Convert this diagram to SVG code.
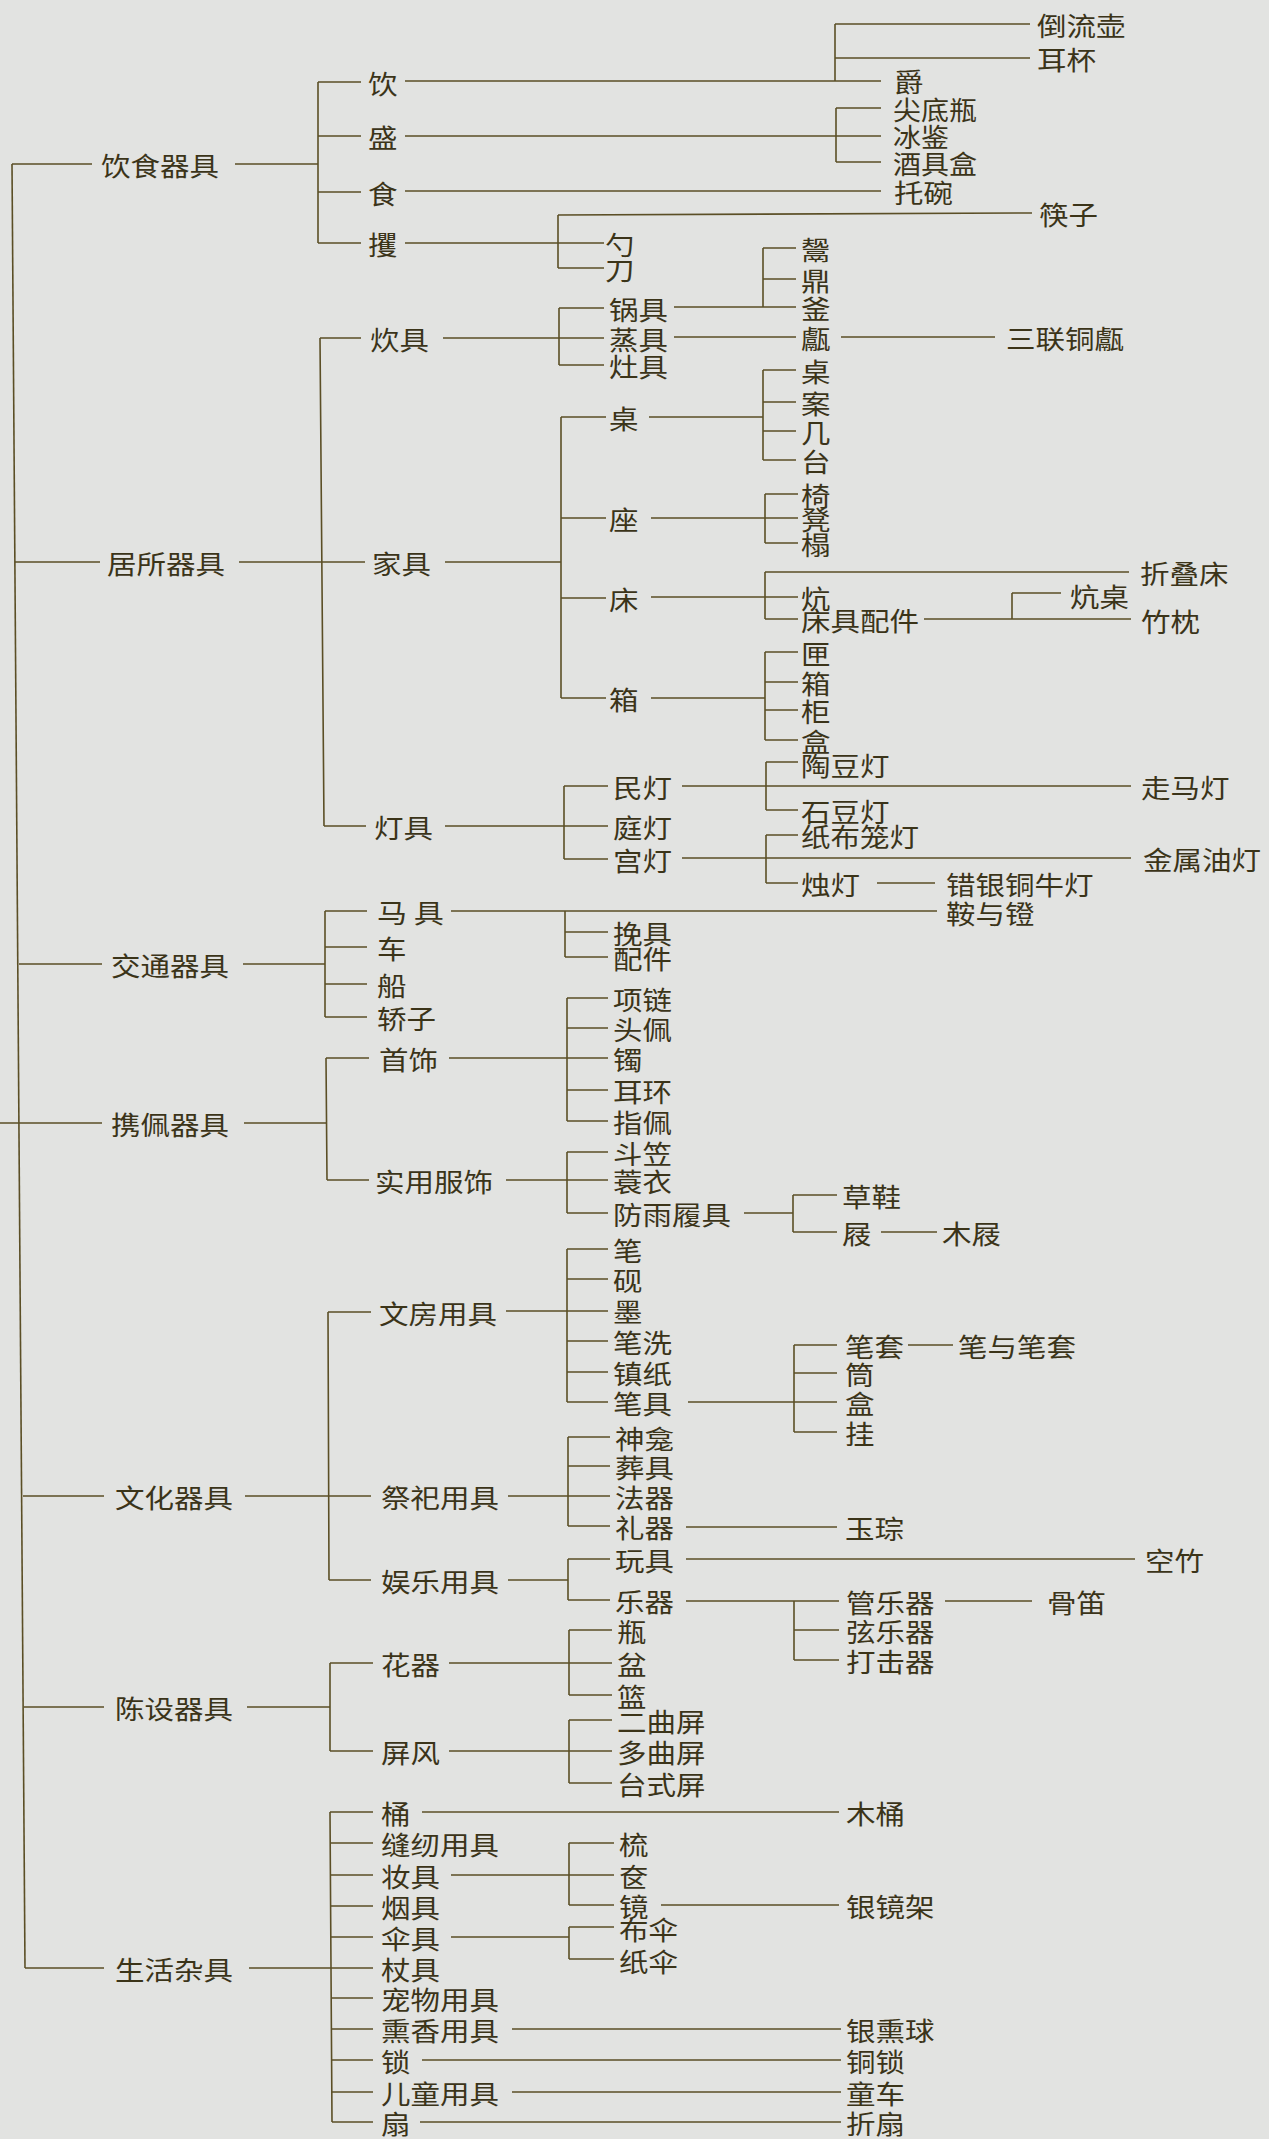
<svg xmlns="http://www.w3.org/2000/svg" width="1269" height="2139" viewBox="0 0 1269 2139">
<style>
.bg{fill:#e2e3e1}
.c path{fill:none;stroke:#5b4f26;stroke-width:1.6}
text{font-family:"Noto Sans CJK SC","Noto Sans CJK TC",sans-serif;font-size:26px;fill:#3b3419;dominant-baseline:central}
</style>
<rect class="bg" x="0" y="0" width="1269" height="2139"/>
<g id="connectors" class="c">
<path d="M12,164 L25,1968"/>
<path d="M12,164 H92 M15,562 H100 M19,964 H102 M0,1123 H102 M23,1496 H104 M24,1707 H104 M25,1968 H104"/>
<path d="M235,164 H318 M239,562 H365 M243,964 H325 M244,1123 H327 M245,1496 H371 M247,1707 H330 M249,1968 H373"/>
<path d="M318,82 V243 M318,82 H361 M318,136 H361 M318,192 H361 M318,243 H361"/>
<path d="M320,338 L324,826 M320,338 H361 M324,826 H366"/>
<path d="M325,911 V1017 M325,911 H367 M325,947 H367 M325,984 H367 M325,1017 H367"/>
<path d="M326,1058 L327,1180 M326,1058 H369 M327,1180 H369"/>
<path d="M328,1312 L329,1580 M328,1312 H371 M329,1580 H371"/>
<path d="M330,1663 V1751 M330,1663 H373 M330,1751 H373"/>
<path d="M330,1812 L332,2122 M330,1812 H373 M330,1843 H373 M331,1875 H373 M331,1906 H373 M331,1937 H373 M332,1998 H373 M332,2029 H373 M332,2060 H373 M332,2092 H373 M332,2122 H373"/>
<path d="M405,81 H881 M835,24 V81 M835,24 H1030 M835,58 H1030"/>
<path d="M405,136 H881 M836,108 V162 M836,108 H881 M836,162 H881"/>
<path d="M405,191 H881"/>
<path d="M405,243 H604 M558,215 V268 M558,215 L1032,213 M558,268 H604"/>
<path d="M443,338 H604 M559,308 V365 M559,308 H604 M559,365 H604"/>
<path d="M674,307 H796 M763,248 V307 M763,248 H796 M763,279 H796"/>
<path d="M674,337 H796 M841,337 H995"/>
<path d="M445,562 H561 M561,417 V698 M561,417 H606 M561,518 H606 M561,598 H606 M561,698 H606"/>
<path d="M649,417 H763 M763,370 V460 M763,370 H796 M763,402 H796 M763,431 H796 M763,460 H796"/>
<path d="M651,518 H798 M765,494 V543 M765,494 H798 M765,543 H798"/>
<path d="M651,597 H798 M765,572 V619 M765,572 H1129 M765,619 H798"/>
<path d="M924,619 H1131 M1012,593 V619 M1012,593 H1061"/>
<path d="M651,698 H765 M765,652 V740 M765,652 H798 M765,682 H798 M765,710 H798 M765,740 H798"/>
<path d="M445,826 H608 M564,786 V859 M564,786 H608 M564,859 H608"/>
<path d="M682,786 H1131 M766,762 V810 M766,762 H798 M766,810 H798"/>
<path d="M682,858 H1131 M766,835 V883 M766,835 H798 M766,883 H798 M877,883 H935"/>
<path d="M451,911 H937 M565,911 V957 M565,932 H608 M565,957 H608"/>
<path d="M449,1058 H608 M567,998 V1121 M567,998 H608 M567,1028 H608 M567,1090 H608 M567,1121 H608"/>
<path d="M506,1180 H608 M567,1152 V1213 M567,1152 H608 M567,1213 H608"/>
<path d="M744,1213 H793 M793,1195 V1232 M793,1195 H837 M793,1232 H837 M881,1232 H937"/>
<path d="M506,1311 H608 M567,1249 V1402 M567,1249 H608 M567,1279 H608 M567,1341 H608 M567,1372 H608 M567,1402 H608"/>
<path d="M688,1402 H837 M794,1345 V1432 M794,1345 H837 M794,1373 H837 M794,1432 H837 M908,1345 H953"/>
<path d="M508,1496 H610 M568,1437 V1526 M568,1437 H610 M568,1466 H610 M568,1526 H610"/>
<path d="M686,1527 H837"/>
<path d="M508,1580 H568 M568,1559 V1600 M568,1559 H610 M568,1600 H610"/>
<path d="M686,1559 H1135"/>
<path d="M686,1601 H839 M794,1601 V1660 M794,1630 H839 M794,1660 H839 M945,1601 H1032"/>
<path d="M449,1663 H612 M569,1630 V1695 M569,1630 H612 M569,1695 H612"/>
<path d="M449,1751 H612 M569,1720 V1783 M569,1720 H612 M569,1783 H612"/>
<path d="M422,1812 H839"/>
<path d="M451,1875 H614 M569,1843 V1905 M569,1843 H614 M569,1905 H614 M661,1905 H839"/>
<path d="M451,1937 H569 M569,1927 V1959 M569,1927 H614 M569,1959 H614"/>
<path d="M512,2029 H841 M422,2060 H841 M512,2092 H841 M420,2122 H841"/>
</g>
<g id="n-yinshiqiju"><text x="101" y="164" textLength="118" lengthAdjust="spacingAndGlyphs">饮食器具</text></g>
<g id="n-jusuoqiju"><text x="107" y="562" textLength="118" lengthAdjust="spacingAndGlyphs">居所器具</text></g>
<g id="n-jiaotongqiju"><text x="111" y="964" textLength="118" lengthAdjust="spacingAndGlyphs">交通器具</text></g>
<g id="n-xiepeiqiju"><text x="111" y="1123" textLength="118" lengthAdjust="spacingAndGlyphs">携佩器具</text></g>
<g id="n-wenhuaqiju"><text x="115" y="1496" textLength="118" lengthAdjust="spacingAndGlyphs">文化器具</text></g>
<g id="n-chensheqiju"><text x="115" y="1707" textLength="118" lengthAdjust="spacingAndGlyphs">陈设器具</text></g>
<g id="n-shenghuozaju"><text x="115" y="1968" textLength="118" lengthAdjust="spacingAndGlyphs">生活杂具</text></g>
<g id="n-yin"><text x="368" y="82" textLength="29.5" lengthAdjust="spacingAndGlyphs">饮</text></g>
<g id="n-sheng"><text x="368" y="136" textLength="29.5" lengthAdjust="spacingAndGlyphs">盛</text></g>
<g id="n-shi"><text x="368" y="192" textLength="29.5" lengthAdjust="spacingAndGlyphs">食</text></g>
<g id="n-jue2"><text x="368" y="243" textLength="29.5" lengthAdjust="spacingAndGlyphs">攫</text></g>
<g id="n-chuiju"><text x="370" y="338" textLength="59" lengthAdjust="spacingAndGlyphs">炊具</text></g>
<g id="n-jiaju"><text x="372" y="562" textLength="59" lengthAdjust="spacingAndGlyphs">家具</text></g>
<g id="n-dengju"><text x="374" y="826" textLength="59" lengthAdjust="spacingAndGlyphs">灯具</text></g>
<g id="n-maju"><text x="377" y="911" textLength="67" lengthAdjust="spacingAndGlyphs">马 具</text></g>
<g id="n-che"><text x="377" y="947" textLength="29.5" lengthAdjust="spacingAndGlyphs">车</text></g>
<g id="n-chuan"><text x="377" y="984" textLength="29.5" lengthAdjust="spacingAndGlyphs">船</text></g>
<g id="n-jiaozi"><text x="377" y="1017" textLength="59" lengthAdjust="spacingAndGlyphs">轿子</text></g>
<g id="n-shoushi"><text x="379" y="1058" textLength="59" lengthAdjust="spacingAndGlyphs">首饰</text></g>
<g id="n-shiyongfushi"><text x="375" y="1180" textLength="118" lengthAdjust="spacingAndGlyphs">实用服饰</text></g>
<g id="n-wenfangyongju"><text x="379" y="1312" textLength="118" lengthAdjust="spacingAndGlyphs">文房用具</text></g>
<g id="n-jisiyongju"><text x="381" y="1496" textLength="118" lengthAdjust="spacingAndGlyphs">祭祀用具</text></g>
<g id="n-yuleyongju"><text x="381" y="1580" textLength="118" lengthAdjust="spacingAndGlyphs">娱乐用具</text></g>
<g id="n-huaqi"><text x="381" y="1663" textLength="59" lengthAdjust="spacingAndGlyphs">花器</text></g>
<g id="n-pingfeng"><text x="381" y="1751" textLength="59" lengthAdjust="spacingAndGlyphs">屏风</text></g>
<g id="n-tong"><text x="381" y="1812" textLength="29.5" lengthAdjust="spacingAndGlyphs">桶</text></g>
<g id="n-fengren"><text x="381" y="1843" textLength="118" lengthAdjust="spacingAndGlyphs">缝纫用具</text></g>
<g id="n-zhuangju"><text x="381" y="1875" textLength="59" lengthAdjust="spacingAndGlyphs">妆具</text></g>
<g id="n-yanju"><text x="381" y="1906" textLength="59" lengthAdjust="spacingAndGlyphs">烟具</text></g>
<g id="n-sanju"><text x="381" y="1937" textLength="59" lengthAdjust="spacingAndGlyphs">伞具</text></g>
<g id="n-zhangju"><text x="381" y="1968" textLength="59" lengthAdjust="spacingAndGlyphs">杖具</text></g>
<g id="n-chongwu"><text x="381" y="1998" textLength="118" lengthAdjust="spacingAndGlyphs">宠物用具</text></g>
<g id="n-xunxiang"><text x="381" y="2029" textLength="118" lengthAdjust="spacingAndGlyphs">熏香用具</text></g>
<g id="n-suo"><text x="381" y="2060" textLength="29.5" lengthAdjust="spacingAndGlyphs">锁</text></g>
<g id="n-ertong"><text x="381" y="2092" textLength="118" lengthAdjust="spacingAndGlyphs">儿童用具</text></g>
<g id="n-shan"><text x="381" y="2122" textLength="29.5" lengthAdjust="spacingAndGlyphs">扇</text></g>
<g id="n-jue"><text x="894" y="80" textLength="29.5" lengthAdjust="spacingAndGlyphs">爵</text></g>
<g id="n-daoliuhu"><text x="1037" y="24" textLength="88.5" lengthAdjust="spacingAndGlyphs">倒流壶</text></g>
<g id="n-erbei"><text x="1037" y="58" textLength="59" lengthAdjust="spacingAndGlyphs">耳杯</text></g>
<g id="n-jiandiping"><text x="893" y="108" textLength="84" lengthAdjust="spacingAndGlyphs">尖底瓶</text></g>
<g id="n-bingjian"><text x="893" y="135" textLength="56" lengthAdjust="spacingAndGlyphs">冰鉴</text></g>
<g id="n-jiujuhe"><text x="893" y="162" textLength="84" lengthAdjust="spacingAndGlyphs">酒具盒</text></g>
<g id="n-tuowan"><text x="894" y="191" textLength="59" lengthAdjust="spacingAndGlyphs">托碗</text></g>
<g id="n-kuaizi"><text x="1039" y="213" textLength="59" lengthAdjust="spacingAndGlyphs">筷子</text></g>
<g id="n-shao"><text x="605" y="243" textLength="29.5" lengthAdjust="spacingAndGlyphs">勺</text></g>
<g id="n-dao"><text x="605" y="268" textLength="29.5" lengthAdjust="spacingAndGlyphs">刀</text></g>
<g id="n-guoju"><text x="609" y="308" textLength="59" lengthAdjust="spacingAndGlyphs">锅具</text></g>
<g id="n-zhengju"><text x="609" y="338" textLength="59" lengthAdjust="spacingAndGlyphs">蒸具</text></g>
<g id="n-zaoju"><text x="609" y="365" textLength="59" lengthAdjust="spacingAndGlyphs">灶具</text></g>
<g id="n-gui"><text x="801" y="248" textLength="29.5" lengthAdjust="spacingAndGlyphs">鬶</text></g>
<g id="n-ding"><text x="801" y="279" textLength="29.5" lengthAdjust="spacingAndGlyphs">鼎</text></g>
<g id="n-fu"><text x="801" y="307" textLength="29.5" lengthAdjust="spacingAndGlyphs">釜</text></g>
<g id="n-yan"><text x="801" y="337" textLength="29.5" lengthAdjust="spacingAndGlyphs">甗</text></g>
<g id="n-sanliantongyan"><text x="1006" y="337" textLength="118" lengthAdjust="spacingAndGlyphs">三联铜甗</text></g>
<g id="n-zhuo"><text x="609" y="417" textLength="29.5" lengthAdjust="spacingAndGlyphs">桌</text></g>
<g id="n-zuo"><text x="609" y="518" textLength="29.5" lengthAdjust="spacingAndGlyphs">座</text></g>
<g id="n-chuang"><text x="609" y="598" textLength="29.5" lengthAdjust="spacingAndGlyphs">床</text></g>
<g id="n-xiang"><text x="609" y="698" textLength="29.5" lengthAdjust="spacingAndGlyphs">箱</text></g>
<g id="n-zhuo2"><text x="801" y="370" textLength="29.5" lengthAdjust="spacingAndGlyphs">桌</text></g>
<g id="n-an"><text x="801" y="402" textLength="29.5" lengthAdjust="spacingAndGlyphs">案</text></g>
<g id="n-ji"><text x="801" y="431" textLength="29.5" lengthAdjust="spacingAndGlyphs">几</text></g>
<g id="n-tai"><text x="801" y="460" textLength="29.5" lengthAdjust="spacingAndGlyphs">台</text></g>
<g id="n-yi"><text x="801" y="494" textLength="29.5" lengthAdjust="spacingAndGlyphs">椅</text></g>
<g id="n-deng"><text x="801" y="518" textLength="29.5" lengthAdjust="spacingAndGlyphs">凳</text></g>
<g id="n-ta"><text x="801" y="543" textLength="29.5" lengthAdjust="spacingAndGlyphs">榻</text></g>
<g id="n-zhediechuang"><text x="1140" y="572" textLength="88.5" lengthAdjust="spacingAndGlyphs">折叠床</text></g>
<g id="n-kang"><text x="801" y="597" textLength="29.5" lengthAdjust="spacingAndGlyphs">炕</text></g>
<g id="n-chuangjupeijian"><text x="801" y="619" textLength="118" lengthAdjust="spacingAndGlyphs">床具配件</text></g>
<g id="n-kangzhuo"><text x="1070" y="595" textLength="59" lengthAdjust="spacingAndGlyphs">炕桌</text></g>
<g id="n-zhuzhen"><text x="1141" y="620" textLength="59" lengthAdjust="spacingAndGlyphs">竹枕</text></g>
<g id="n-xia"><text x="801" y="652" textLength="29.5" lengthAdjust="spacingAndGlyphs">匣</text></g>
<g id="n-xiang2"><text x="801" y="682" textLength="29.5" lengthAdjust="spacingAndGlyphs">箱</text></g>
<g id="n-gui2"><text x="801" y="710" textLength="29.5" lengthAdjust="spacingAndGlyphs">柜</text></g>
<g id="n-he"><text x="801" y="740" textLength="29.5" lengthAdjust="spacingAndGlyphs">盒</text></g>
<g id="n-mindeng"><text x="613" y="786" textLength="59" lengthAdjust="spacingAndGlyphs">民灯</text></g>
<g id="n-tingdeng"><text x="613" y="826" textLength="59" lengthAdjust="spacingAndGlyphs">庭灯</text></g>
<g id="n-gongdeng"><text x="613" y="859" textLength="59" lengthAdjust="spacingAndGlyphs">宫灯</text></g>
<g id="n-taodoudeng"><text x="801" y="764" textLength="88.5" lengthAdjust="spacingAndGlyphs">陶豆灯</text></g>
<g id="n-shidoudeng"><text x="801" y="810" textLength="88.5" lengthAdjust="spacingAndGlyphs">石豆灯</text></g>
<g id="n-zoumadeng"><text x="1141" y="786" textLength="88.5" lengthAdjust="spacingAndGlyphs">走马灯</text></g>
<g id="n-zhibulongdeng"><text x="801" y="835" textLength="118" lengthAdjust="spacingAndGlyphs">纸布笼灯</text></g>
<g id="n-zhudeng"><text x="801" y="883" textLength="59" lengthAdjust="spacingAndGlyphs">烛灯</text></g>
<g id="n-cuoyin"><text x="946" y="883" textLength="147.5" lengthAdjust="spacingAndGlyphs">错银铜牛灯</text></g>
<g id="n-jinshuyoudeng"><text x="1143" y="858" textLength="118" lengthAdjust="spacingAndGlyphs">金属油灯</text></g>
<g id="n-anyudeng"><text x="946" y="912" textLength="88.5" lengthAdjust="spacingAndGlyphs">鞍与镫</text></g>
<g id="n-wanju"><text x="613" y="932" textLength="59" lengthAdjust="spacingAndGlyphs">挽具</text></g>
<g id="n-peijian"><text x="613" y="957" textLength="59" lengthAdjust="spacingAndGlyphs">配件</text></g>
<g id="n-xianglian"><text x="613" y="998" textLength="59" lengthAdjust="spacingAndGlyphs">项链</text></g>
<g id="n-toupei"><text x="613" y="1028" textLength="59" lengthAdjust="spacingAndGlyphs">头佩</text></g>
<g id="n-zhuo3"><text x="613" y="1058" textLength="29.5" lengthAdjust="spacingAndGlyphs">镯</text></g>
<g id="n-erhuan"><text x="613" y="1090" textLength="59" lengthAdjust="spacingAndGlyphs">耳环</text></g>
<g id="n-zhipei"><text x="613" y="1121" textLength="59" lengthAdjust="spacingAndGlyphs">指佩</text></g>
<g id="n-douli"><text x="613" y="1152" textLength="59" lengthAdjust="spacingAndGlyphs">斗笠</text></g>
<g id="n-suoyi"><text x="613" y="1180" textLength="59" lengthAdjust="spacingAndGlyphs">蓑衣</text></g>
<g id="n-fangyulvju"><text x="613" y="1213" textLength="118" lengthAdjust="spacingAndGlyphs">防雨履具</text></g>
<g id="n-caoxie"><text x="842" y="1195" textLength="59" lengthAdjust="spacingAndGlyphs">草鞋</text></g>
<g id="n-ji2"><text x="842" y="1232" textLength="29.5" lengthAdjust="spacingAndGlyphs">屐</text></g>
<g id="n-muji"><text x="942" y="1232" textLength="59" lengthAdjust="spacingAndGlyphs">木屐</text></g>
<g id="n-bi"><text x="613" y="1249" textLength="29.5" lengthAdjust="spacingAndGlyphs">笔</text></g>
<g id="n-yan2"><text x="613" y="1279" textLength="29.5" lengthAdjust="spacingAndGlyphs">砚</text></g>
<g id="n-mo"><text x="613" y="1310" textLength="29.5" lengthAdjust="spacingAndGlyphs">墨</text></g>
<g id="n-bixi"><text x="613" y="1341" textLength="59" lengthAdjust="spacingAndGlyphs">笔洗</text></g>
<g id="n-zhenzhi"><text x="613" y="1372" textLength="59" lengthAdjust="spacingAndGlyphs">镇纸</text></g>
<g id="n-biju"><text x="613" y="1402" textLength="59" lengthAdjust="spacingAndGlyphs">笔具</text></g>
<g id="n-bitao"><text x="845" y="1345" textLength="59" lengthAdjust="spacingAndGlyphs">笔套</text></g>
<g id="n-tong2"><text x="845" y="1373" textLength="29.5" lengthAdjust="spacingAndGlyphs">筒</text></g>
<g id="n-he2"><text x="845" y="1402" textLength="29.5" lengthAdjust="spacingAndGlyphs">盒</text></g>
<g id="n-gua"><text x="845" y="1432" textLength="29.5" lengthAdjust="spacingAndGlyphs">挂</text></g>
<g id="n-biyubitao"><text x="958" y="1345" textLength="118" lengthAdjust="spacingAndGlyphs">笔与笔套</text></g>
<g id="n-shenkan"><text x="615" y="1437" textLength="59" lengthAdjust="spacingAndGlyphs">神龛</text></g>
<g id="n-zangju"><text x="615" y="1466" textLength="59" lengthAdjust="spacingAndGlyphs">葬具</text></g>
<g id="n-faqi"><text x="615" y="1496" textLength="59" lengthAdjust="spacingAndGlyphs">法器</text></g>
<g id="n-liqi"><text x="615" y="1526" textLength="59" lengthAdjust="spacingAndGlyphs">礼器</text></g>
<g id="n-yucong"><text x="845" y="1527" textLength="59" lengthAdjust="spacingAndGlyphs">玉琮</text></g>
<g id="n-wanju2"><text x="615" y="1559" textLength="59" lengthAdjust="spacingAndGlyphs">玩具</text></g>
<g id="n-yueqi"><text x="615" y="1600" textLength="59" lengthAdjust="spacingAndGlyphs">乐器</text></g>
<g id="n-kongzhu"><text x="1145" y="1559" textLength="59" lengthAdjust="spacingAndGlyphs">空竹</text></g>
<g id="n-guanyueqi"><text x="846" y="1601" textLength="88.5" lengthAdjust="spacingAndGlyphs">管乐器</text></g>
<g id="n-xianyueqi"><text x="846" y="1630" textLength="88.5" lengthAdjust="spacingAndGlyphs">弦乐器</text></g>
<g id="n-dajiqi"><text x="846" y="1660" textLength="88.5" lengthAdjust="spacingAndGlyphs">打击器</text></g>
<g id="n-gudi"><text x="1047" y="1601" textLength="59" lengthAdjust="spacingAndGlyphs">骨笛</text></g>
<g id="n-ping"><text x="617" y="1630" textLength="29.5" lengthAdjust="spacingAndGlyphs">瓶</text></g>
<g id="n-pen"><text x="617" y="1663" textLength="29.5" lengthAdjust="spacingAndGlyphs">盆</text></g>
<g id="n-lan"><text x="617" y="1695" textLength="29.5" lengthAdjust="spacingAndGlyphs">篮</text></g>
<g id="n-erquping"><text x="617" y="1720" textLength="88.5" lengthAdjust="spacingAndGlyphs">二曲屏</text></g>
<g id="n-duoquping"><text x="617" y="1751" textLength="88.5" lengthAdjust="spacingAndGlyphs">多曲屏</text></g>
<g id="n-taishiping"><text x="617" y="1783" textLength="88.5" lengthAdjust="spacingAndGlyphs">台式屏</text></g>
<g id="n-mutong"><text x="846" y="1812" textLength="59" lengthAdjust="spacingAndGlyphs">木桶</text></g>
<g id="n-shu"><text x="619" y="1843" textLength="29.5" lengthAdjust="spacingAndGlyphs">梳</text></g>
<g id="n-lian"><text x="619" y="1875" textLength="29.5" lengthAdjust="spacingAndGlyphs">奁</text></g>
<g id="n-jing"><text x="619" y="1905" textLength="29.5" lengthAdjust="spacingAndGlyphs">镜</text></g>
<g id="n-yinjingjia"><text x="846" y="1905" textLength="88.5" lengthAdjust="spacingAndGlyphs">银镜架</text></g>
<g id="n-busan"><text x="619" y="1928" textLength="59" lengthAdjust="spacingAndGlyphs">布伞</text></g>
<g id="n-zhisan"><text x="619" y="1960" textLength="59" lengthAdjust="spacingAndGlyphs">纸伞</text></g>
<g id="n-yinxunqiu"><text x="846" y="2029" textLength="88.5" lengthAdjust="spacingAndGlyphs">银熏球</text></g>
<g id="n-tongsuo"><text x="846" y="2060" textLength="59" lengthAdjust="spacingAndGlyphs">铜锁</text></g>
<g id="n-tongche"><text x="846" y="2092" textLength="59" lengthAdjust="spacingAndGlyphs">童车</text></g>
<g id="n-zheshan"><text x="846" y="2122" textLength="59" lengthAdjust="spacingAndGlyphs">折扇</text></g>
</svg>
